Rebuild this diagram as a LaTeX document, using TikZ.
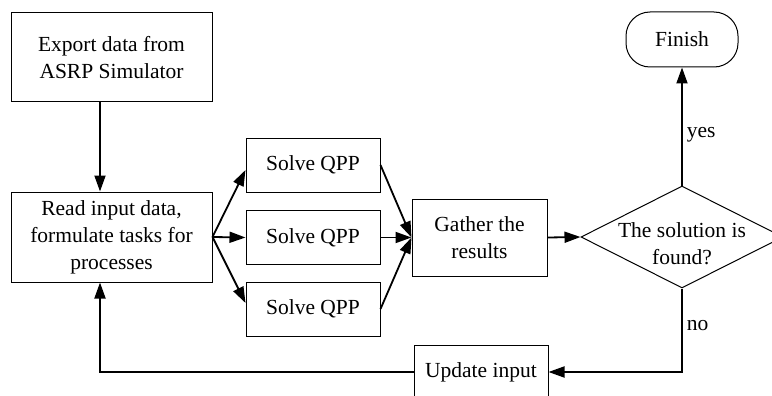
\documentclass[tikz,border=0pt]{standalone}
\usepackage{fontspec}
\setmainfont{Liberation Serif}
\usetikzlibrary{arrows.meta,shapes.geometric}
\begin{document}
\begin{tikzpicture}[x=1pt, y=-1pt,
	box/.style={draw, line width=1pt, align=center, inner sep=0pt, font=\fontsize{21.5}{27}\selectfont},
	flow/.style={line width=1.8pt, -{Triangle[length=16pt,width=11pt]}},
	lbl/.style={font=\fontsize{21.5}{27}\selectfont, inner sep=4pt}]

	\clip (0,0) rectangle (772,396);

	% left column
	\node[box, minimum width=201pt, minimum height=89pt] (exp) at (111.5,57.5) {Export data from\\ASRP Simulator};
	\node[box, minimum width=201pt, minimum height=90pt] (read) at (111.5,237) {Read input data,\\formulate tasks for\\processes};

	% parallel solvers
	\foreach \i/\y in {1/165, 2/237.5, 3/309}{
		\node[box, minimum width=134pt, minimum height=54pt] (s\i) at (313,\y) {Solve QPP};
	}

	\node[box, minimum width=135pt, minimum height=77pt] (gath) at (479.5,237.5) {Gather the\\results};
	\node[box, shape=diamond, aspect=2, minimum width=202pt, minimum height=102pt,
		label={[lbl, align=center, yshift=-7pt]center:The solution is\\found?}] (dec) at (682,237) {};
	\node[box, rounded corners=24pt, minimum width=112pt, minimum height=55pt] (fin) at (682,39.5) {Finish};
	\node[box, minimum width=134pt, minimum height=54pt] (upd) at (481,372) {Update input};

	% connectors
	\draw[flow] ([xshift=-11.5pt]exp.south) -- ([xshift=-11.5pt]read.north);
	\draw[flow] (read.east) -- ([yshift=-5pt]s1.west);
	\draw[flow] (read.east) -- (s2.west);
	\draw[flow] (read.east) -- ([yshift=6pt]s3.west);
	\foreach \i in {1,2,3}{
		\draw[flow] (s\i.east) -- (gath.west);
	}
	\draw[flow] (gath.east) -- (dec.west);
	\draw[flow] (dec.north) -- node[lbl, right, pos=0.43] {yes} (fin.south);
	\draw[flow] (dec.south) |- node[lbl, right, pos=0.22] {no} (upd.east);
	\draw[flow] (upd.west) -| ([xshift=-11.5pt]read.south);

\end{tikzpicture}
\end{document}
